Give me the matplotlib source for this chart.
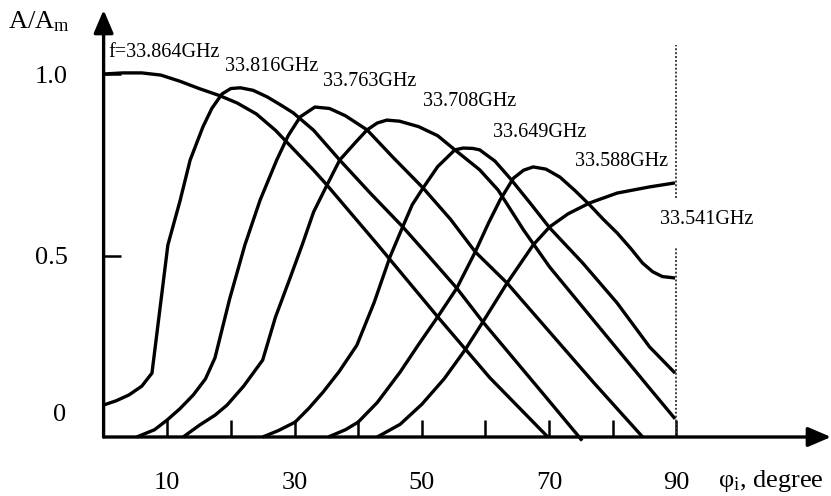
import numpy as np
import matplotlib
matplotlib.use("Agg")
from matplotlib import pyplot as plt

plt.rcParams['font.family'] = ['Liberation Serif', 'DejaVu Serif']
plt.rcParams['mathtext.fontset'] = 'custom'
plt.rcParams['mathtext.rm'] = 'Liberation Serif'
plt.rcParams['mathtext.it'] = 'Liberation Serif:italic'

# curves: angle (degree) vs A/Am
x_864 = [0, 3.0, 6.0, 9.0, 12.0, 15.0, 18.3, 21.0, 24.0, 27.0, 30.0, 33.0, 35.1, 43.1, 52.5, 60.7, 69.8]
y_864 = [1.0, 1.003, 1.003, 0.997, 0.98, 0.96, 0.94, 0.92, 0.89, 0.845, 0.79, 0.735, 0.694, 0.529, 0.331, 0.163, 0.0]

x_816 = [0, 2, 4, 6, 7.6, 10.1, 12.0, 13.6, 15.6, 17.0, 18.6, 20.0, 21.5, 23.5, 25.7, 27.8, 29.8,
         33.0, 37.1, 42.0, 47.0, 51.0, 55.5, 59.6, 64.0, 69.5, 75.2]
y_816 = [0.088, 0.100, 0.116, 0.140, 0.176, 0.529, 0.65, 0.763, 0.854, 0.905, 0.945, 0.960, 0.962, 0.955,
         0.937, 0.915, 0.893, 0.845, 0.763, 0.67, 0.579, 0.50, 0.410, 0.317, 0.225, 0.11, -0.01]

x_763 = [5.2, 8.0, 10.0, 12.0, 14.1, 16.0, 17.5, 19.8, 22.2, 24.6, 27.2, 29.0, 30.9, 33.2, 35.5, 38.0,
         41.4, 45.5, 50.2, 54.5, 58.4, 63.4, 70.1, 77.0, 84.7]
y_763 = [0, 0.02, 0.047, 0.078, 0.116, 0.16, 0.218, 0.38, 0.529, 0.653, 0.763, 0.83, 0.882, 0.909, 0.905,
         0.885, 0.846, 0.77, 0.686, 0.60, 0.510, 0.424, 0.289, 0.15, 0]

x_708 = [12.5, 15.1, 17.5, 19.4, 22.0, 25.0, 27.0, 29.3, 31.2, 33.0, 35.1, 37.1, 39.5, 41.4, 43.0, 44.5,
         46.5, 49.5, 52.5, 55.2, 59.1, 62.0, 66.0, 70.1, 74.0, 78.0, 82.0, 86.0, 89.8]
y_708 = [0, 0.033, 0.06, 0.088, 0.14, 0.212, 0.33, 0.438, 0.529, 0.62, 0.694, 0.763, 0.81, 0.846, 0.865,
         0.873, 0.87, 0.855, 0.83, 0.791, 0.736, 0.68, 0.57, 0.468, 0.385, 0.30, 0.215, 0.13, 0.05]

x_649 = [25.0, 27.5, 30.1, 32.3, 34.5, 37.0, 39.8, 42.5, 45.0, 47.0, 48.5, 50.2, 52.5, 55.2, 56.5, 58.0,
         59.1, 61.5, 64.0, 67.0, 70.1, 75.3, 80.7, 85.8, 89.8]
y_649 = [0, 0.018, 0.041, 0.08, 0.124, 0.18, 0.253, 0.37, 0.496, 0.579, 0.64, 0.686, 0.745, 0.791, 0.796,
         0.795, 0.791, 0.76, 0.71, 0.645, 0.576, 0.479, 0.369, 0.248, 0.176]

x_588 = [35.3, 38.0, 40.0, 43.0, 46.6, 49.5, 52.5, 55.5, 58.4, 60.5, 62.3, 64.4, 66.0, 67.5, 69.5, 71.7,
         74.0, 76.4, 78.5, 80.7, 82.8, 84.7, 86.3, 87.8, 89.8]
y_588 = [0, 0.02, 0.041, 0.095, 0.179, 0.255, 0.331, 0.410, 0.510, 0.59, 0.653, 0.713, 0.735, 0.744, 0.738,
         0.716, 0.68, 0.639, 0.60, 0.562, 0.52, 0.479, 0.455, 0.442, 0.438]

x_541 = [43.0, 46.6, 50.0, 53.5, 56.8, 59.6, 63.4, 67.5, 70.1, 73.0, 76.4, 80.7, 85.8, 89.8]
y_541 = [0, 0.035, 0.09, 0.16, 0.240, 0.317, 0.424, 0.529, 0.579, 0.615, 0.645, 0.672, 0.689, 0.700]

curves = [(x_864, y_864), (x_816, y_816), (x_763, y_763), (x_708, y_708),
          (x_649, y_649), (x_588, y_588), (x_541, y_541)]

freq_labels = ['f=33.864GHz', '33.816GHz', '33.763GHz', '33.708GHz', '33.649GHz', '33.588GHz', '33.541GHz']
label_x = [0.7, 19.1, 34.5, 50.2, 61.2, 74.1, 87.4]
label_y = [1.058, 1.022, 0.978, 0.923, 0.840, 0.760, 0.598]

major_x = [10, 30, 50, 70, 90]
minor_x = [20, 40, 60, 80]
y_ticks = [0.5, 1.0]

W, H = 831, 496
fig = plt.figure(figsize=(W / 100, H / 100), dpi=100)
ax = fig.add_axes([103.6 / W, 59 / H, 727.4 / W, 427 / H])
ax.set_xlim(0, 727.4 / 6.364)
ax.set_ylim(0, 427 / 363)
for s in ax.spines.values():
    s.set_visible(False)

lw = 2.4
for cx, cy in curves:
    ax.plot(cx, cy, color='black', lw=lw, solid_joinstyle='round', solid_capstyle='butt', clip_on=False)

# dotted line at 90 degree, broken where the last label sits
ax.plot([90, 90], [0, 0.523], color='0.25', lw=1.4, ls=(0, (1, 1)))
ax.plot([90, 90], [0.658, 1.08], color='0.25', lw=1.4, ls=(0, (1, 1)))

for t, lx, ly in zip(freq_labels, label_x, label_y):
    ax.text(lx, ly, t, fontsize=14.5, ha='left', va='center')

# axes with arrows
arr = dict(arrowstyle='-|>,head_length=1.4,head_width=0.6', lw=lw, color='black',
           shrinkA=0, shrinkB=0, mutation_scale=10)
ax.annotate('', xy=(1, 0), xytext=(0, 0), xycoords='axes fraction', arrowprops=arr)
ax.annotate('', xy=(0, 1), xytext=(0, 0), xycoords='axes fraction', arrowprops=arr)

ax.set_xticks(major_x)
ax.set_xticklabels([str(v) for v in major_x])
ax.set_xticks(minor_x, minor=True)
ax.set_yticks(y_ticks)
ax.set_yticklabels(['0.5', '1.0'])
ax.tick_params(axis='both', which='both', direction='in', length=12, width=1.8, labelsize=19)
ax.tick_params(axis='x', pad=25)
ax.tick_params(axis='y', pad=26)
ax.text(-0.052, 0.06, '0', transform=ax.get_yaxis_transform(), fontsize=19, ha='right', va='center')

fig.text(8 / W, 1 - 22 / H, 'A/A$_\\mathrm{m}$', fontsize=19, ha='left', va='center')
fig.text(718 / W, 1 - 481 / H, 'φ$_\\mathrm{i}$, degree', fontsize=19, ha='left', va='center')

fig.savefig('out.png', dpi=100)
